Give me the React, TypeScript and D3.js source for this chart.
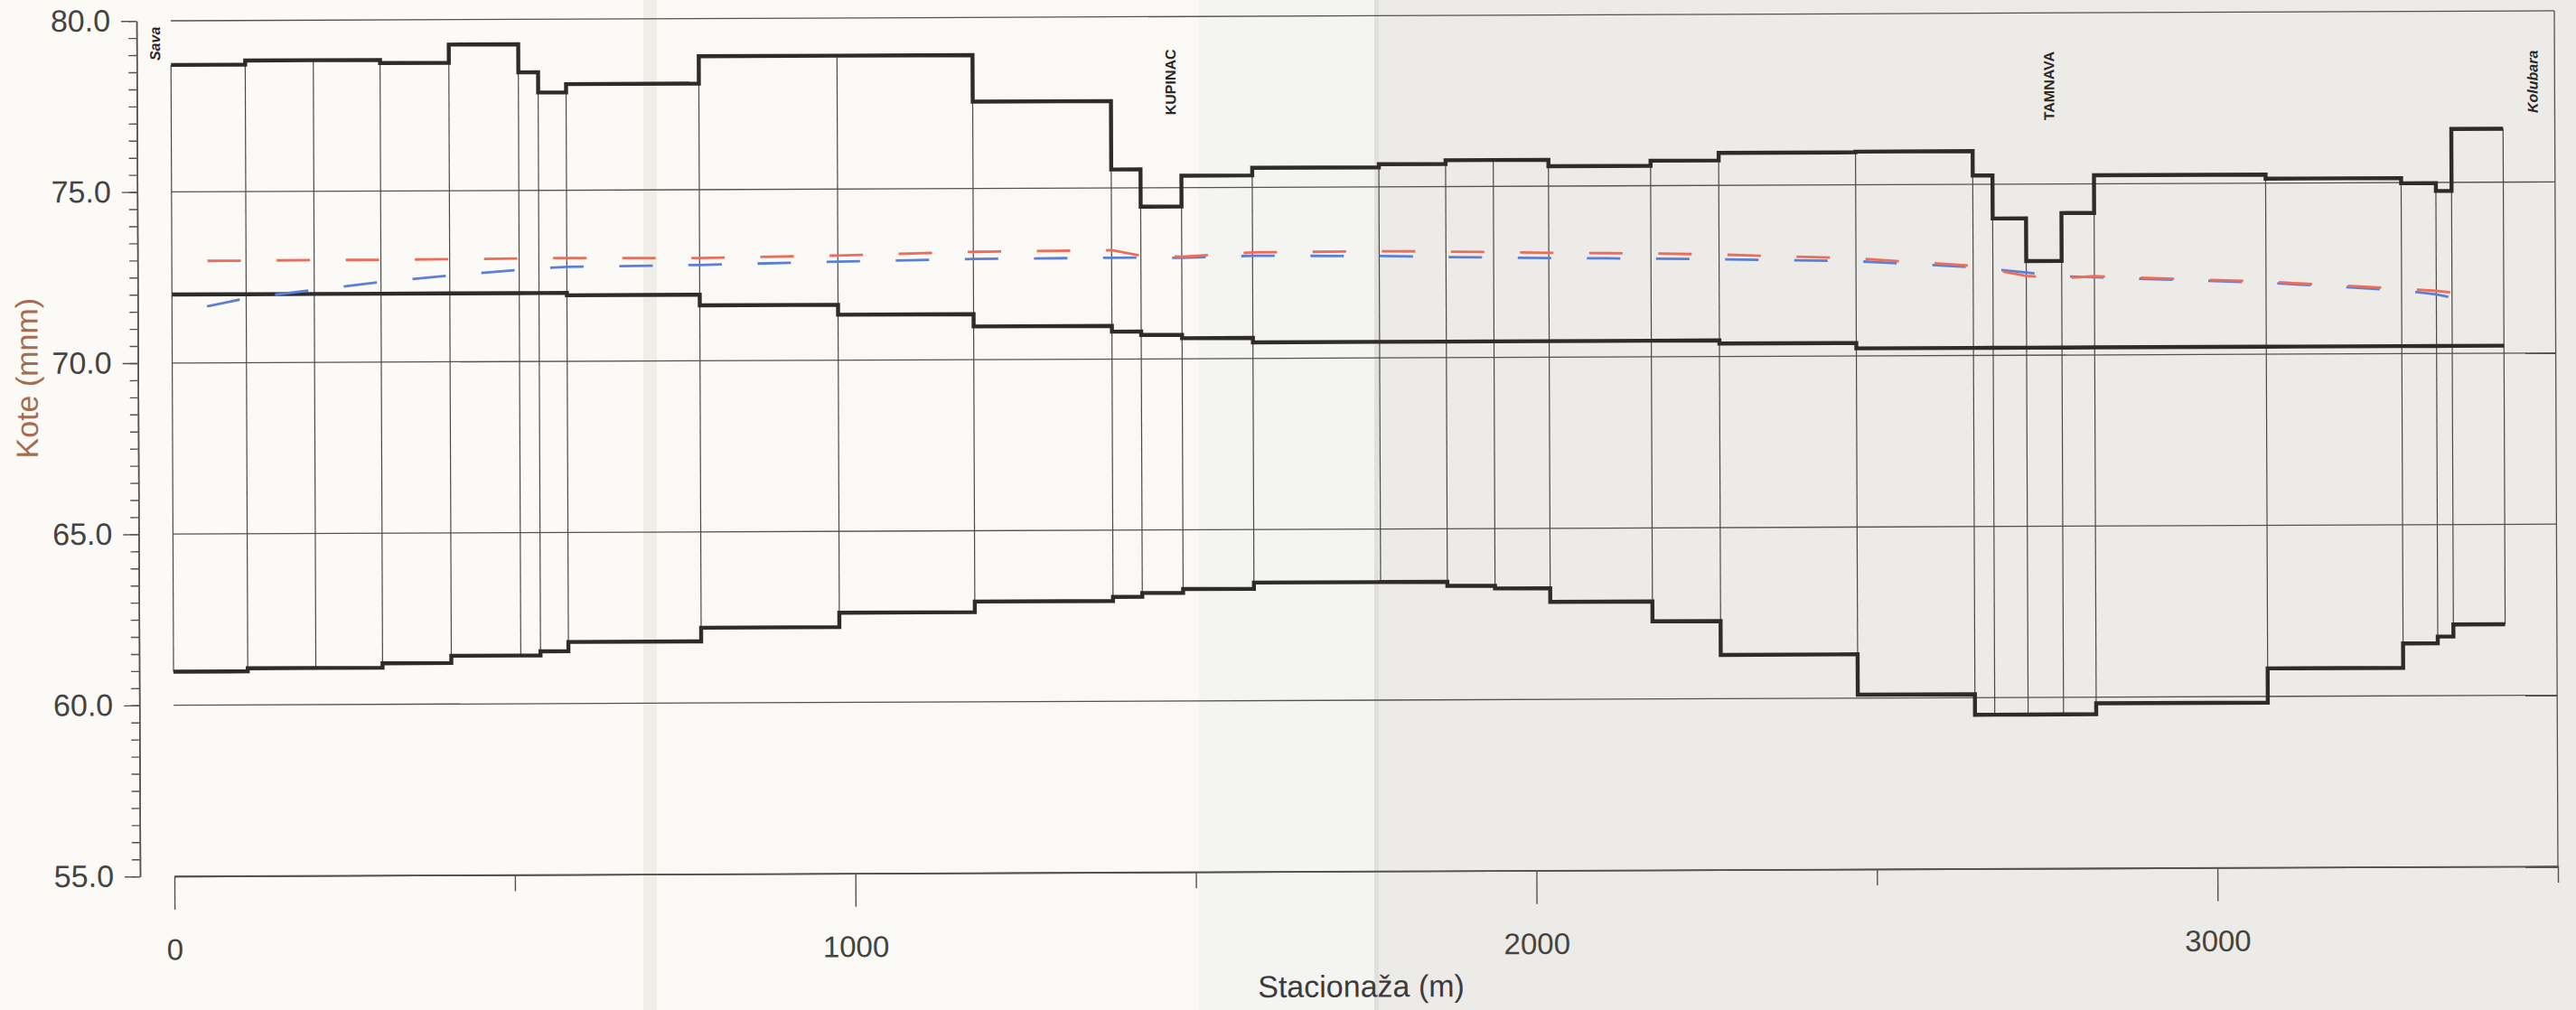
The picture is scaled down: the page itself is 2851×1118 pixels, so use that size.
import React, { useEffect, useRef } from "react";
import * as d3 from "d3";

// cross-section stations along the river (m)
const stations = [0, 109, 209, 307, 408, 510, 539, 580, 775, 978, 1177, 1380, 1423, 1483, 1587, 1773, 1871, 1941, 2022, 2172, 2272, 2473, 2645, 2674, 2723, 2775, 2823, 3075, 3274, 3325, 3348, 3424];

// levels of each reach between two stations (mnm)
const levee = [78.71, 78.83, 78.83, 78.74, 79.27, 78.45, 77.86, 78.1, 78.9, 78.9, 77.54, 75.54, 74.45, 75.35, 75.57, 75.66, 75.77, 75.77, 75.58, 75.73, 75.95, 75.97, 75.26, 74.0, 72.75, 74.15, 75.25, 75.13, 74.98, 74.75, 76.56];
const berm = [72.0, 72.0, 72.0, 72.0, 72.0, 72.0, 72.0, 71.93, 71.62, 71.33, 70.97, 70.8, 70.7, 70.6, 70.47, 70.47, 70.47, 70.47, 70.47, 70.47, 70.38, 70.22, 70.22, 70.22, 70.22, 70.22, 70.22, 70.22, 70.22, 70.22, 70.22];
const bed = [60.98, 61.07, 61.07, 61.2, 61.41, 61.41, 61.53, 61.8, 62.2, 62.62, 62.93, 63.05, 63.16, 63.27, 63.45, 63.45, 63.33, 63.25, 62.85, 62.27, 61.28, 60.1, 59.5, 59.5, 59.5, 59.5, 59.82, 60.82, 61.53, 61.73, 62.08];

// water levels at the stations, 0 .. 3348 m
const waterRed = [72.98, 72.98, 72.99, 72.99, 73.0, 73.01, 73.02, 73.02, 73.0, 73.06, 73.15, 73.18, 73.02, 72.98, 73.1, 73.12, 73.1, 73.08, 73.05, 73.02, 72.98, 72.85, 72.62, 72.5, 72.32, 72.24, 72.3, 72.12, 71.9, 71.83, 71.78];
const waterBlue = [71.45, 71.88, 72.12, 72.34, 72.52, 72.68, 72.72, 72.76, 72.8, 72.88, 72.94, 72.96, 72.96, 72.95, 73.0, 72.98, 72.94, 72.92, 72.9, 72.87, 72.84, 72.77, 72.58, 72.52, 72.42, 72.3, 72.27, 72.09, 71.85, 71.73, 71.63];

// named places along the profile
const placeNames = ["Sava", "KUPINAC", "TAMNAVA", "Kolubara"];
const placeAt = [-16, 1475, 2765, 3475];

const xMajor = [0, 1000, 2000, 3000];
const xMinor = [500, 1500, 2500, 3500];
const yMajor = [55, 60, 65, 70, 75, 80];

const W = 2851;
const H = 1118;
const FONT = "'Liberation Sans', Arial, Helvetica, sans-serif";

export default function App() {
  const svgRef = useRef<SVGSVGElement | null>(null);

  useEffect(() => {
    const svg = d3.select(svgRef.current);
    svg.selectAll("*").remove();

    // paper shading of the scan
    const bands: [number, number, string][] = [
      [0, 712, "#fbfaf7"],
      [712, 727, "#f0eee9"],
      [727, 1327, "#faf9f6"],
      [1327, 1521, "#f4f4f2"],
      [1521, 1526, "#e0e0dd"],
      [1526, W, "#ecebe8"],
    ];
    svg.selectAll("rect.band")
      .data(bands)
      .enter()
      .append("rect")
      .attr("x", d => d[0])
      .attr("y", 0)
      .attr("width", d => d[1] - d[0])
      .attr("height", H)
      .attr("fill", d => d[2]);

    const x = d3.scaleLinear().domain([0, 3500]).range([193, 2831]);
    const y = d3.scaleLinear().domain([55, 80]).range([970, 23]);

    // the scanned page is slightly tilted
    const g = svg.append("g").attr("transform", "rotate(-0.24 193 970)");

    // horizontal grid
    g.selectAll("line.grid")
      .data(yMajor)
      .enter()
      .append("line")
      .attr("x1", x(0))
      .attr("x2", x(3500))
      .attr("y1", d => y(d))
      .attr("y2", d => y(d))
      .attr("stroke", "#55534f")
      .attr("stroke-width", 1.3);

    // right frame
    g.append("line")
      .attr("x1", x(3500)).attr("x2", x(3500))
      .attr("y1", y(80)).attr("y2", y(55))
      .attr("stroke", "#55534f")
      .attr("stroke-width", 1.3);

    // cross-section verticals
    g.selectAll("line.section")
      .data(stations)
      .enter()
      .append("line")
      .attr("x1", d => x(d))
      .attr("x2", d => x(d))
      .attr("y1", (d, i) => y(Math.max(levee[Math.max(i - 1, 0)], levee[Math.min(i, levee.length - 1)])))
      .attr("y2", (d, i) => y(Math.min(bed[Math.max(i - 1, 0)], bed[Math.min(i, bed.length - 1)])))
      .attr("stroke", "#4d4a46")
      .attr("stroke-width", 1.2);

    // step lines
    const step = d3.line<[number, number]>()
      .x(d => x(d[0]))
      .y(d => y(d[1]))
      .curve(d3.curveStepAfter);
    [levee, berm, bed].forEach(vals => {
      const pts: [number, number][] = stations.map((s, i) => [s, vals[Math.min(i, vals.length - 1)]]);
      g.append("path")
        .attr("d", step(pts))
        .attr("fill", "none")
        .attr("stroke", "#2f2b28")
        .attr("stroke-width", 4.4)
        .attr("stroke-linejoin", "miter");
    });

    // water levels, dashed
    const lin = d3.line<[number, number]>()
      .x(d => x(d[0]))
      .y(d => y(d[1]));
    const waters: [number[], string][] = [[waterBlue, "#5b7fd9"], [waterRed, "#ee6d58"]];
    waters.forEach(([vals, col]) => {
      const pts: [number, number][] = vals.map((v, i) => [stations[i], v]);
      g.append("path")
        .attr("d", lin(pts))
        .attr("fill", "none")
        .attr("stroke", col)
        .attr("stroke-width", 2.8)
        .attr("stroke-dasharray", "37 39.5")
        .attr("stroke-dashoffset", 37);
    });

    // place names
    const labelBottom = [67, 132, 142, 136];
    placeNames.forEach((name, i) => {
      g.append("text")
        .attr("transform", `translate(${x(placeAt[i])},${labelBottom[i]}) rotate(-90)`)
        .attr("font-family", FONT)
        .attr("font-size", 16)
        .attr("font-weight", "bold")
        .attr("font-style", i === 0 || i === 3 ? "italic" : "normal")
        .attr("fill", "#2a2725")
        .text(name);
    });

    // y axis
    const yAxisG = g.append("g").attr("transform", "translate(155,0)");
    yAxisG.call(
      d3.axisLeft(y)
        .tickValues(d3.range(55, 80.01, 0.5))
        .tickSize(9)
        .tickSizeOuter(0)
        .tickFormat(() => "")
    );
    yAxisG.call(g2 =>
      g2.append("g").call(
        d3.axisLeft(y)
          .tickValues(yMajor)
          .tickSize(17)
          .tickSizeOuter(0)
          .tickPadding(12)
          .tickFormat(d3.format(".1f") as any)
      )
    );
    yAxisG.selectAll("path.domain").attr("stroke", "#55534f").attr("stroke-width", 1.5);
    yAxisG.selectAll("line").attr("stroke", "#55534f").attr("stroke-width", 1.4);
    yAxisG.selectAll("text")
      .attr("font-family", FONT)
      .attr("font-size", 34)
      .attr("fill", "#45433f");

    // x axis
    const xAxisG = g.append("g").attr("transform", `translate(0,${y(55)})`);
    xAxisG.call(
      d3.axisBottom(x)
        .tickValues(xMinor)
        .tickSize(18)
        .tickSizeOuter(0)
        .tickFormat(() => "")
    );
    xAxisG.call(g2 =>
      g2.append("g").call(
        d3.axisBottom(x)
          .tickValues(xMajor)
          .tickSize(37)
          .tickSizeOuter(0)
          .tickPadding(32)
          .tickFormat(d3.format("d") as any)
      )
    );
    xAxisG.selectAll("path.domain").attr("stroke", "#55534f").attr("stroke-width", 1.4);
    xAxisG.selectAll("line").attr("stroke", "#55534f").attr("stroke-width", 1.4);
    xAxisG.selectAll("text")
      .attr("font-family", FONT)
      .attr("font-size", 33)
      .attr("fill", "#45433f");

    // axis titles
    g.append("text")
      .attr("x", 1506)
      .attr("y", 1109)
      .attr("text-anchor", "middle")
      .attr("font-family", FONT)
      .attr("font-size", 34)
      .attr("fill", "#3d3b39")
      .text("Stacionaža (m)");

    g.append("text")
      .attr("transform", "translate(44,418) rotate(-90)")
      .attr("text-anchor", "middle")
      .attr("font-family", FONT)
      .attr("font-size", 34)
      .attr("fill", "#a56d4f")
      .text("Kote (mnm)");
  }, []);

  return (
    <svg
      ref={svgRef}
      width={W}
      height={H}
      style={{ position: "absolute", left: 0, top: 0, display: "block" }}
    ></svg>
  );
}
